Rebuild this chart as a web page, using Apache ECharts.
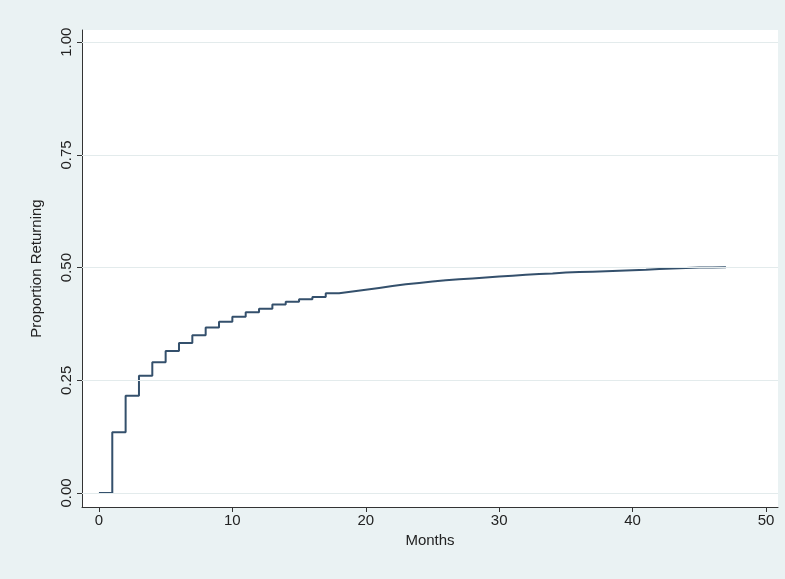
<!DOCTYPE html>
<html><head><meta charset="utf-8">
<script src="https://cdn.jsdelivr.net/npm/echarts@6/dist/echarts.min.js"></script>
<style>html,body{margin:0;padding:0;background:#eaf2f3}#c{width:785px;height:579px}</style>
</head><body><div id="c"></div>
<script>
var months = [0,1,2,3,4,5,6,7,8,9,10,11,12,13,14,15,16,17,18,19,20,21,22,23,24,25,26,27,28,29,30,31,32,33,34,35,36,37,38,39,40,41,42,43,44,45,46,47];
var proportion = [0,0.135,0.216,0.26,0.29,0.315,0.333,0.35,0.367,0.38,0.391,0.401,0.409,0.418,0.424,0.43,0.435,0.443,0.447,0.451,0.455,0.459,0.463,0.466,0.469,0.472,0.474,0.476,0.478,0.48,0.482,0.484,0.486,0.487,0.489,0.49,0.491,0.492,0.493,0.494,0.495,0.497,0.498,0.499,0.5,0.5,0.501,0.501];
var xTicks = [0,10,20,30,40,50];
var yTicks = [0,0.25,0.5,0.75,1];

var data = months.map(function(m, i){ return [m, proportion[i]]; });
var chart = echarts.init(document.getElementById('c'));
chart.setOption({
  animation: false,
  backgroundColor: '#eaf2f3',
  grid: {left: 82, right: 7, top: 30, bottom: 72, show: true, backgroundColor: '#fff', borderWidth: 0},
  xAxis: {
    type: 'value', min: -1.27, max: 50.9,
    name: 'Months', nameLocation: 'middle', nameGap: 22,
    nameTextStyle: {color: '#222', fontSize: 15, fontFamily: 'Liberation Sans'},
    axisLine: {show: true, onZero: false, lineStyle: {color: '#333'}},
    axisTick: {show: true, length: 5, lineStyle: {color: '#333'}, customValues: xTicks},
    axisLabel: {color: '#222', fontSize: 15, fontFamily: 'Liberation Sans', margin: 6, customValues: xTicks},
    splitLine: {show: false}
  },
  yAxis: {
    type: 'value', min: -0.031, max: 1.027,
    name: 'Proportion Returning', nameLocation: 'middle', nameGap: 38,
    nameTextStyle: {color: '#222', fontSize: 15, fontFamily: 'Liberation Sans'},
    axisLine: {show: true, onZero: false, lineStyle: {color: '#333'}},
    axisTick: {show: true, length: 5, lineStyle: {color: '#333'}, customValues: yTicks},
    axisLabel: {color: '#222', fontSize: 15, fontFamily: 'Liberation Sans', rotate: 90, margin: 8,
      customValues: yTicks, formatter: function(v){ return v.toFixed(2); }},
    splitLine: {show: false}
  },
  series: [{
    type: 'line', step: 'end', data: data, symbol: 'none',
    lineStyle: {color: '#34506c', width: 2},
    markLine: {
      silent: true, symbol: 'none', label: {show: false},
      lineStyle: {color: '#e3ebec', type: 'solid', width: 1},
      data: yTicks.map(function(v){ return {yAxis: v}; })
    },
    z: 3
  }]
});
</script></body></html>
